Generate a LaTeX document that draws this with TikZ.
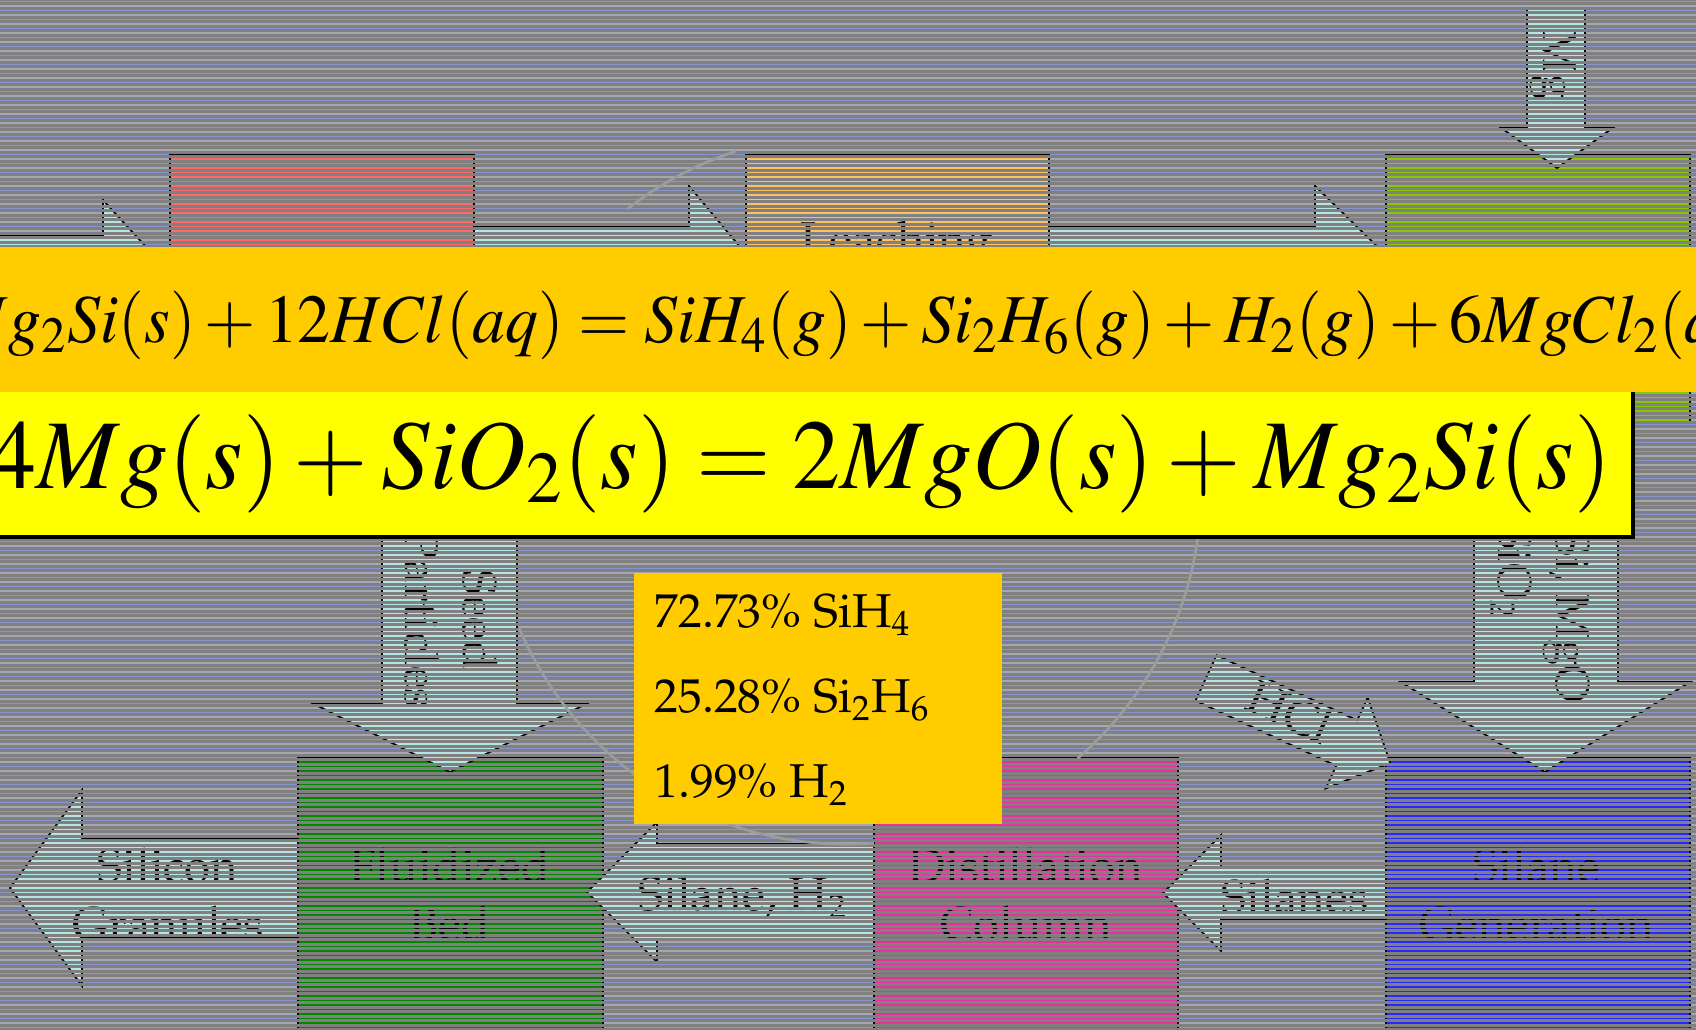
\documentclass[tikz,border=0pt]{standalone}
\usepackage[T1]{fontenc}
\usepackage{mathptmx}
\usepackage{graphicx}
\usepackage{tikz}
\usetikzlibrary{positioning}
\usepackage{xcolor}
\definecolor{bggray}{HTML}{808080}
\definecolor{bgblue}{HTML}{8494D4}
\definecolor{bglite}{HTML}{A6A6AE}
\definecolor{redbox}{HTML}{FF6868}
\definecolor{orgbox}{HTML}{FFC060}
\definecolor{limebox}{HTML}{88C800}
\definecolor{grnbox}{HTML}{008800}
\definecolor{magbox}{HTML}{E8309C}
\definecolor{blubox}{HTML}{2828FF}
\definecolor{arrcyan}{HTML}{B4E6E6}
\definecolor{eqgold}{HTML}{FFCC00}
\definecolor{eqyell}{HTML}{FFFF00}
\definecolor{ringgray}{HTML}{9C9C9C}
\newcommand{\pala}{\fontfamily{ppl}\selectfont}
\tikzset{
  stripe/.style ={line width=0.015cm},
  gapband/.style={line width=0.031cm, draw=bggray},
  unitbox/.style={draw=black, line width=0.5pt},
  flow/.style   ={draw=black, line width=0.5pt, fill=arrcyan},
  lbl/.style    ={font=\pala\fontsize{13.5}{16.5}\selectfont, align=center,
                  inner sep=0pt},
  pct/.style    ={font=\pala\fontsize{13.5}{16}\selectfont, anchor=base west,
                  inner sep=0pt},
  eqn/.style    ={anchor=base west, inner sep=0pt},
  ring/.style   ={draw=ringgray, line width=0.75pt},
}

\begin{document}
\begin{tikzpicture}[x=0.01cm, y=-0.01cm]
  \useasboundingbox (0,0) rectangle (1696,1030);
  % ---- ground and its lines
  \fill[bggray] (0,0) rectangle (1696,1030);
  \foreach \i in {0,...,229}{
    \pgfmathsetmacro{\yy}{1.5+4.5*\i}
    \ifodd\i \def\sc{bglite}\else \def\sc{bgblue}\fi
    \draw[stripe, draw=\sc] (0,\yy) -- (1696,\yy);
  }
  % ---- top row: units
  \draw[unitbox, fill=redbox]  (170,154)  rectangle (474,423);
  \draw[unitbox, fill=orgbox]  (746,154)  rectangle (1049,423);
  \draw[unitbox, fill=limebox] (1386,154) rectangle (1690,423);
  \node[lbl, anchor=base] (leach) at (897,255) {Leaching};
  % ---- top row: flows
  \draw[flow] (-20,236) -- (103,236) -- (103,200) -- (170,273)
              -- (103,346) -- (103,310) -- (-20,310) -- cycle;
  \draw[flow] (474,227) -- (689,227) -- (689,186) -- (746,254)
              -- (689,322) -- (689,281) -- (474,281) -- cycle;
  \draw[flow] (1049,227) -- (1315,227) -- (1315,186) -- (1386,255)
              -- (1315,324) -- (1315,283) -- (1049,283) -- cycle;
  \draw[flow] (1527,8) -- (1585,8) -- (1585,127) -- (1614,127)
              -- (1557,168) -- (1500,127) -- (1527,127) -- cycle;
  \node[lbl, rotate=-90] (mgin) at (1553,65) {Mg};
  % ---- bottom row: units
  \draw[unitbox, fill=grnbox] (298,758)  rectangle (603,1045);
  \draw[unitbox, fill=magbox] (874,758)  rectangle (1178,1045);
  \draw[unitbox, fill=blubox] (1386,758) rectangle (1690,1045);
  \node[lbl] (fbed)    at (450,895)  {Fluidized\\Bed};
  \node[lbl] (distill) at (1026,895) {Distillation\\Column};
  \node[lbl] (silgen)  at (1537,895) {Silane\\Generation};
  % ---- down flows
  \draw[flow] (382,470) -- (517,470) -- (517,704) -- (586,704)
              -- (450,772) -- (314,704) -- (382,704) -- cycle;
  \node[lbl, rotate=-90] (seed) at (451,620) {Seed\\Particles};
  \draw[flow] (1474,470) -- (1618,470) -- (1618,682) -- (1690,682)
              -- (1545,772) -- (1401,682) -- (1474,682) -- cycle;
  \node[lbl, rotate=-90] (solids) at (1540,572)
    {Mg\textsubscript{2}Si, MgO\\SiO\textsubscript{2}};
  % ---- HCl feed, tilted
  \begin{scope}[shift={(1206,678)}, rotate=-24.8]
    \draw[flow] (0,-25) -- (155,-25) -- (155,-50) -- (203,0)
                -- (155,50) -- (155,25) -- (0,25) -- cycle;
  \end{scope}
  \node[lbl, rotate=-24.8] (hcl) at (1290,712) {HCl};
  % ---- left flows
  \draw[flow] (298,839) -- (82,839) -- (82,790) -- (10,888)
              -- (82,986) -- (82,937) -- (298,937) -- cycle;
  \node[lbl] (granules) at (168,895) {Silicon\\Granules};
  \draw[flow] (874,844) -- (657,844) -- (657,822) -- (587,892)
              -- (657,962) -- (657,940) -- (874,940) -- cycle;
  \node[lbl] (silaneh) at (743,897) {Silane, H\textsubscript{2}};
  \draw[flow] (1386,867) -- (1221,867) -- (1221,835) -- (1163,893)
              -- (1221,951) -- (1221,919) -- (1386,919) -- cycle;
  \node[lbl] (silanes) at (1295,897) {Silanes};
  % ---- screen lines over the chart
  \foreach \i in {0,...,229}{
    \pgfmathsetmacro{\yy}{3.75+4.5*\i}
    \draw[gapband] (-40,\yy) -- (1740,\yy);
  }
  % ---- faint ring
  \draw[ring] (846,489) ++(-126.6:3.55cm) arc[start angle=-126.6, end angle=-157.1, radius=3.55cm];
  \draw[ring] (846,489) ++(-85.5:3.55cm)  arc[start angle=-85.5,  end angle=-109.3, radius=3.55cm];
  \draw[ring] (846,489) ++(-7.8:3.55cm)   arc[start angle=-7.8,   end angle=-49.3,  radius=3.55cm];
  \draw[ring] (846,489) ++(128:3.55cm)    arc[start angle=128,    end angle=108,    radius=3.55cm];
  % ---- reaction bands
  \fill[eqyell] (-30,391) rectangle (1633,537);
  \draw[line width=0.9pt] (-30,537) -- (1633,537) -- (1633,391);
  \fill[eqgold] (-30,247) rectangle (1740,392);
  \node[eqn] (eqleach) at (-50,342) {\scalebox{0.96}[1]{\fontsize{19.5}{21}\selectfont
    $Mg_2Si(s)+12HCl(aq)=SiH_4(g)+Si_2H_6(g)+H_2(g)+6MgCl_2(aq)$}};
  \node[eqn] (eqreduce) at (-12,488) {\scalebox{0.975}[1]{\fontsize{28}{30}\selectfont
    $4Mg(s)+SiO_2(s)=2MgO(s)+Mg_2Si(s)$}};
  % ---- gas make-up
  \fill[eqgold] (634,573) rectangle (1002,824);
  \node[pct] (comp1) at (654,627) {72.73\% SiH\textsubscript{4}};
  \node[pct] (comp2) at (654,712) {25.28\% Si\textsubscript{2}H\textsubscript{6}};
  \node[pct] (comp3) at (654,797) {1.99\% H\textsubscript{2}};
\end{tikzpicture}
\end{document}
